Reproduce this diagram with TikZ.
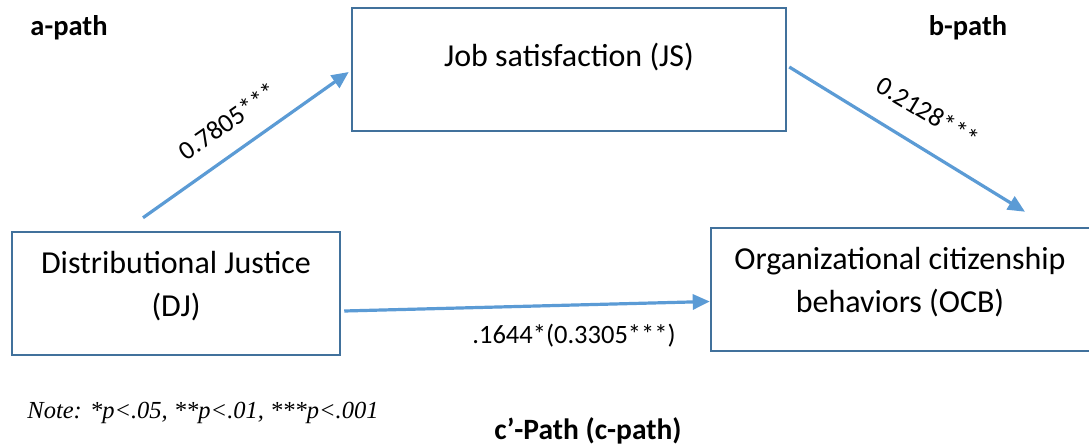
\documentclass[tikz,border=0pt]{standalone}
\usepackage{fontspec}
\setmainfont{Carlito}
\newfontfamily\notefont{Liberation Serif}
\usetikzlibrary{arrows.meta}
\definecolor{arrowblue}{RGB}{91,155,213}
\definecolor{boxblue}{RGB}{65,113,156}
\begin{document}
\begin{tikzpicture}[x=1pt,y=-1pt,
  box/.style={draw=boxblue,line width=2.5pt,rectangle,inner sep=0pt},
  boxtext/.style={font=\fontsize{32}{43}\selectfont,align=center,inner sep=0pt},
  lbl/.style={font=\fontsize{26.5}{30}\selectfont,inner sep=0pt},
  pathlbl/.style={font=\fontsize{28.5}{32}\selectfont\bfseries,inner sep=0pt},
  conn/.style={draw=arrowblue,line width=3.2pt,-{Triangle[length=17pt,width=15pt]}}]
\useasboundingbox (0,0) rectangle (1089,446);
\fill[white] (0,0) rectangle (1089,446);
% boxes
\node[box,minimum width=434pt,minimum height=123pt] (js) at (569,69.5) {};
\node[box,minimum width=328pt,minimum height=123pt] (dj) at (176,293.5) {};
\node[box,minimum width=384pt,minimum height=123pt] (ocb) at (903,289.5) {};
% box texts
\node[boxtext] (jst) at (569,57) {Job satisfaction (JS)};
\node[boxtext] (djt) at (176,286) {Distributional Justice\\(DJ)};
\node[boxtext] (ocbt) at (900,282) {Organizational citizenship\\behaviors (OCB)};
% connectors
\draw[conn] ([xshift=-33pt,yshift=13pt]dj.north) -- ([xshift=-2pt,yshift=-2.5pt]js.west);
\draw[conn] ([xshift=2pt,yshift=2.5pt]js.east) -- ([xshift=122pt,yshift=15pt]ocb.north);
\draw[conn] ([xshift=3pt,yshift=-17.5pt]dj.east) -- ([yshift=-12pt]ocb.west);
% labels
\node[lbl,rotate=35] (la) at (228,121) {0.7805***};
\node[lbl,rotate=-31] (lb) at (928,112) {0.2128***};
\node[lbl] (lc) at (574,336) {.1644*(0.3305***)};
\node[pathlbl] (pa) at (69,28) {a-path};
\node[pathlbl] (pb) at (968,28) {b-path};
\node[pathlbl,font=\fontsize{29.5}{32}\selectfont\bfseries] (pc) at (588,431) {c’-Path (c-path)};
\node[font=\fontsize{24.5}{28}\selectfont\notefont\itshape,inner sep=0pt] (note) at (203,413) {Note: *p<.05, **p<.01, ***p<.001};
\end{tikzpicture}
\end{document}
